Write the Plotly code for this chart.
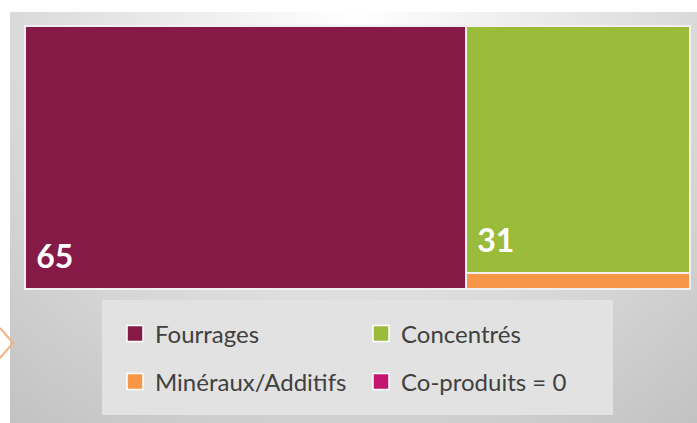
import base64
import plotly.graph_objects as go

# ---- data ----
categories = ["Fourrages", "Concentrés", "Minéraux/Additifs", "Co-produits = 0"]
values = [65, 31, 2, 0]
value_labels = ["65", "31", "", ""]
colors = ["#861A47", "#9BBB3B", "#F79646", "#C4166E"]

W, H = 697, 423

fig = go.Figure()

# treemap (only non-zero items get a tile)
tm_idx = [i for i, v in enumerate(values) if v > 0]
fig.add_trace(go.Treemap(
    labels=[categories[i] for i in tm_idx],
    parents=["" for _ in tm_idx],
    values=[values[i] for i in tm_idx],
    texttemplate=["&nbsp;<b>%s</b><span style='font-size:85px'>&nbsp;</span>" % value_labels[i]
                  if value_labels[i] else "" for i in tm_idx],
    textposition="bottom left",
    textfont=dict(size=32, color="white", family="Lato"),
    marker=dict(colors=[colors[i] for i in tm_idx],
                line=dict(width=2, color="#F3EEF1"),
                pad=dict(t=0, l=0, r=0, b=0)),
    tiling=dict(packing="squarify", pad=0),
    sort=True,
    root=dict(color="rgba(0,0,0,0)"),
    pathbar=dict(visible=False),
    hoverinfo="skip",
    domain=dict(x=[25 / W, 690 / W], y=[1 - 289 / H, 1 - 26 / H]),
))

# legend entries (dummy traces)
for i, cat in enumerate(categories):
    fig.add_trace(go.Scatter(
        x=[None], y=[None], mode="markers", name=cat,
        marker=dict(symbol="square", size=16, color=colors[i],
                    line=dict(width=1.5, color="white")),
        legend="legend" if i in (0, 1) else "legend2",
        showlegend=True, hoverinfo="skip",
    ))

# gradient panel background as svg image
svg = f'''<svg xmlns="http://www.w3.org/2000/svg" width="687" height="411" viewBox="0 0 687 411">
<defs><radialGradient id="g" cx="50%" cy="0%" r="80%" fx="50%" fy="0%" gradientTransform="translate(0.5,0) scale(1,1.6) translate(-0.5,0)">
<stop offset="0" stop-color="#ffffff"/><stop offset="0.45" stop-color="#e4e4e4"/><stop offset="1" stop-color="#c2c2c2"/></radialGradient></defs>
<rect width="687" height="411" fill="url(#g)"/></svg>'''
src = "data:image/svg+xml;base64," + base64.b64encode(svg.encode()).decode()

legend_font = dict(family="Lato", size=24, color="#404040")

fig.update_layout(
    width=W, height=H,
    margin=dict(l=0, r=0, t=0, b=0),
    paper_bgcolor="white", plot_bgcolor="rgba(0,0,0,0)",
    xaxis=dict(range=[0, W], visible=False, domain=[0, 1], fixedrange=True),
    yaxis=dict(range=[H, 0], visible=False, domain=[0, 1], fixedrange=True),
    images=[dict(source=src, xref="x", yref="y", x=10, y=12, sizex=687, sizey=411,
                 sizing="stretch", layer="below", xanchor="left", yanchor="top")],
    shapes=[
        dict(type="rect", xref="x", yref="y", x0=102, x1=613, y0=300, y1=415,
             fillcolor="#E2E2E2", line=dict(width=0), layer="above"),
        dict(type="path", xref="x", yref="y", path="M 0,328 L 13,343 L 0,358",
             line=dict(color="#F4B183", width=2)),
    ],
    legend=dict(orientation="h", x=115 / W, y=1 - 334 / H, xanchor="left", yanchor="middle",
                entrywidth=201, entrywidthmode="pixels", font=legend_font,
                bgcolor="rgba(0,0,0,0)", itemclick=False, itemdoubleclick=False),
    legend2=dict(orientation="h", x=115 / W, y=1 - 382 / H, xanchor="left", yanchor="middle",
                 entrywidth=201, entrywidthmode="pixels", font=legend_font,
                 bgcolor="rgba(0,0,0,0)", itemclick=False, itemdoubleclick=False),
)

fig.write_html("out.html", config={"displayModeBar": False})
